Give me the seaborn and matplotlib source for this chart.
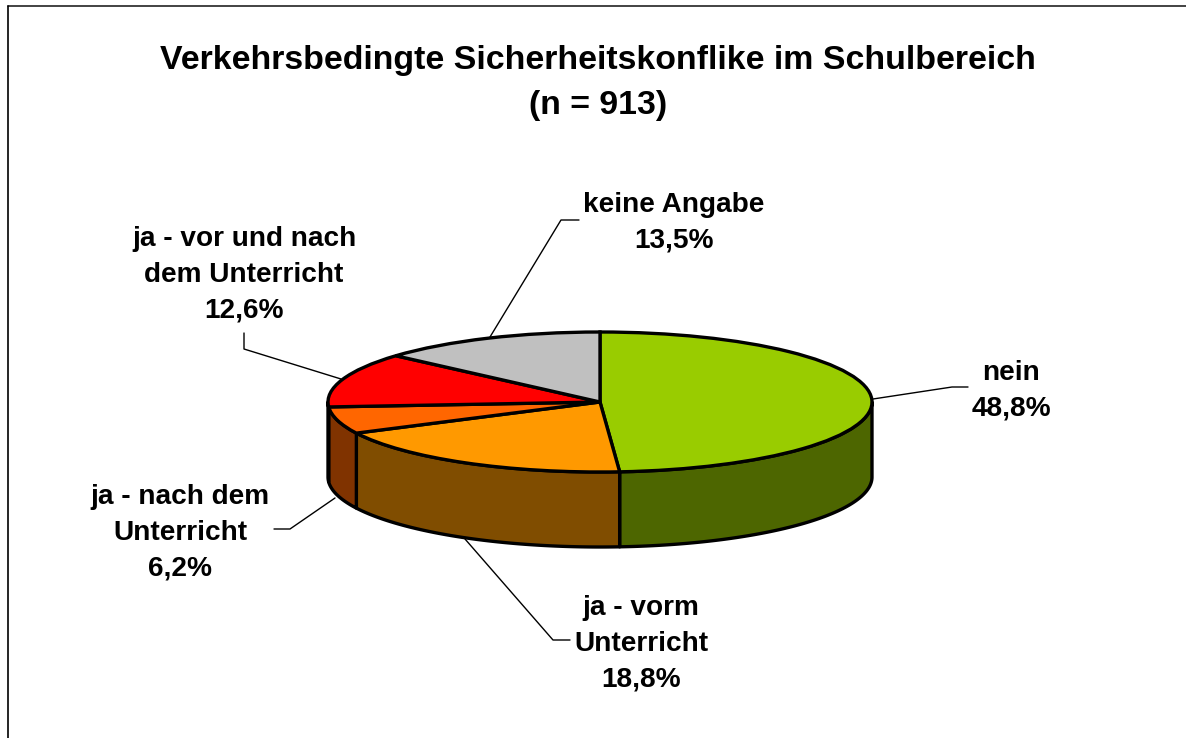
import numpy as np
import matplotlib
matplotlib.use("Agg")
import matplotlib.pyplot as plt
import seaborn as sns

title_lines = ["Verkehrsbedingte Sicherheitskonflike im Schulbereich", "(n = 913)"]
categories = ["nein", "ja - vorm\nUnterricht", "ja - nach dem\nUnterricht",
              "ja - vor und nach\ndem Unterricht", "keine Angabe"]
values = [48.8, 18.8, 6.2, 12.6, 13.5]
value_labels = ["48,8%", "18,8%", "6,2%", "12,6%", "13,5%"]
top_colors = ["#99CC00", "#FF9900", "#FF6600", "#FF0000", "#C0C0C0"]
side_colors = ["#4D6600", "#804D00", "#803300", "#800000", "#606060"]

# label centre positions and leader polylines, in reference pixels
label_pos = [(1011, 391), (641, 644), (180, 533), (244, 275), (674, 223)]
leaders = [
    [(873, 399), (952, 387), (968, 387)],
    [(465, 539), (553, 640), (570, 640)],
    [(335, 498), (290, 529), (274, 529)],
    [(341, 379), (244, 349), (244, 333)],
    [(490, 337), (561, 220), (579, 220)],
]

W, H = 1186, 738
CX, CY, RX, RY, DEPTH = 600, 402, 272, 70, 75

sns.set_theme(style="white")
plt.rcParams["font.family"] = ["Liberation Sans", "DejaVu Sans"]

fig = plt.figure(figsize=(W / 100, H / 100), dpi=100, facecolor="white")
ax = fig.add_axes([0, 0, 1, 1])

# top face: real pie, squashed by the axis limits
ax.pie(values, colors=top_colors, startangle=90, counterclock=False, radius=1,
       wedgeprops=dict(edgecolor="black", linewidth=2.4, joinstyle="miter"))
ax.set_aspect("auto")
ax.set_xlim(-CX / RX, (W - CX) / RX)
ax.set_ylim((CY - H) / RY, CY / RY)
ax.axis("off")

# side wall of the front half
d = DEPTH / RY
fractions = np.cumsum([0] + values) / np.sum(values)
for i in range(len(values)):
    a0 = fractions[i] * 2 * np.pi
    a1 = fractions[i + 1] * 2 * np.pi
    lo, hi = max(a0, np.pi / 2), min(a1, 3 * np.pi / 2)
    if lo >= hi:
        continue
    t = np.linspace(lo, hi, 120)
    x, y = np.sin(t), np.cos(t)
    ax.fill(np.r_[x, x[::-1]], np.r_[y, y[::-1] - d], facecolor=side_colors[i],
            edgecolor="black", linewidth=2.4, joinstyle="round", zorder=0.5)


def to_fig(p):
    return p[0] / W, 1 - p[1] / H


for pts in leaders:
    fx, fy = zip(*[to_fig(p) for p in pts])
    fig.add_artist(plt.Line2D(fx, fy, color="black", lw=1.0, zorder=0.4))

for cat, val, pos in zip(categories, value_labels, label_pos):
    fx, fy = to_fig(pos)
    fig.text(fx, fy, f"{cat}\n{val}", ha="center", va="center", fontsize=20.2,
             fontweight="bold", color="black", linespacing=1.48)

fig.text(*to_fig((598, 83)), "\n".join(title_lines), ha="center", va="center", fontsize=24.4,
         fontweight="bold", color="black", linespacing=1.59)

# chart-area border, only top and left fall inside the crop
fig.add_artist(plt.Line2D([8 / W, 1], [1 - 6 / H, 1 - 6 / H], color="#222222", lw=1.2))
fig.add_artist(plt.Line2D([8 / W, 8 / W], [1 - 6 / H, 0], color="black", lw=1.2))

fig.savefig("out.png", dpi=100, facecolor="white")
